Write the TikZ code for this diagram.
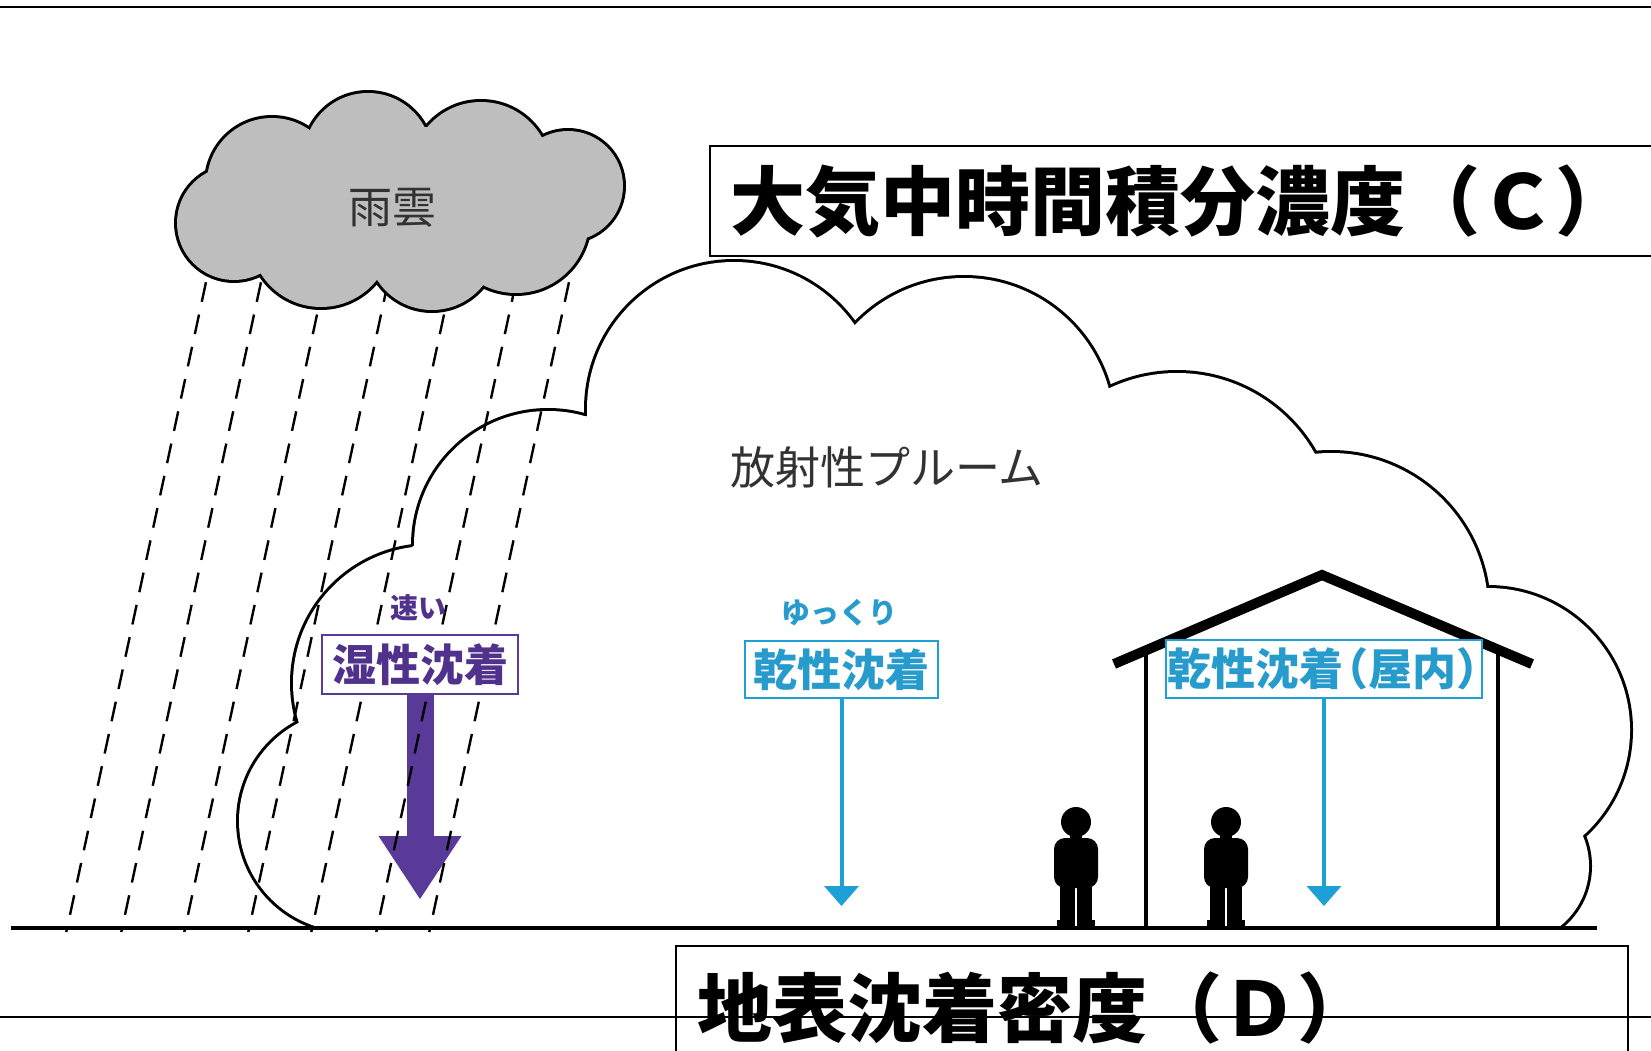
\documentclass[tikz,border=0pt]{standalone}
\usepackage{fontspec}
\newfontfamily\jp[BoldFont={Noto Sans CJK JP Bold}]{Noto Sans CJK JP}
\newfontfamily\jpheavy{Noto Sans CJK JP Black}
\usetikzlibrary{arrows.meta}

\pgfdeclarelayer{bglayer}
\pgfdeclarelayer{plumelayer}
\pgfdeclarelayer{arrowlayer}
\pgfdeclarelayer{rainlayer}
\pgfsetlayers{bglayer,plumelayer,arrowlayer,rainlayer,main}

\definecolor{wetc}{RGB}{90,58,152}
\definecolor{wettext}{RGB}{80,50,140}
\definecolor{dryc}{RGB}{30,160,215}
\definecolor{drytext}{RGB}{40,155,205}
\definecolor{cloudgray}{RGB}{190,190,190}
\definecolor{labelgray}{RGB}{50,50,50}

\tikzset{
  person/.pic={
    \fill (0,-104) circle[radius=15];
    \fill (-6,-92) rectangle (6,-84);
    \fill[rounded corners=11pt] (-22,-38) -- (-22,-88) -- (22,-88) -- (22,-38) -- cycle;
    \fill (-16,-42) rectangle (-1.2,-4);
    \fill (1.2,-42) rectangle (16,-4);
    \fill (-19,-6) rectangle (-1.2,0);
    \fill (1.2,-6) rectangle (19,0);
  }
}

\begin{document}
\begin{tikzpicture}[x=1pt,y=-1pt,
  cjk/.style={inner sep=0pt, text depth=0pt},
  plainlabel/.style={cjk, text height=33.4pt, text=labelgray, font=\jp\fontsize{44}{50}\selectfont},
  wetbox/.style={cjk, text height=33.4pt, draw=wetc, line width=2pt, fill=white, text=wettext,
    minimum width=196pt, minimum height=59pt,
    font=\jpheavy\fontsize{44}{50}\selectfont},
  wetsmall/.style={cjk, text height=21.3pt, text=wettext, font=\jpheavy\fontsize{28}{32}\selectfont},
  drybox/.style={cjk, text height=33.4pt, draw=dryc, line width=2pt, fill=white, text=drytext,
    minimum width=193pt, minimum height=57pt,
    font=\jpheavy\fontsize{44}{50}\selectfont},
  drysmall/.style={cjk, text height=22pt, text=drytext, font=\jpheavy\fontsize{29}{32}\selectfont},
  wetarrow/.style={draw=wetc, line width=27pt,
    -{Triangle[width=83pt,length=63pt,line width=0pt]}},
  dryarrow/.style={draw=dryc, line width=4pt,
    -{Triangle[width=35pt,length=20pt,line width=0pt]}},
  titlebox/.style={cjk, text height=57pt, draw, line width=1.6pt, inner ysep=0pt, align=left,
    font=\jpheavy\fontsize{75}{80}\selectfont},
  raindash/.style={line width=2.4pt, dash pattern=on 20pt off 13pt},
  pageline/.style={line width=2.4pt},
  groundline/.style={line width=4pt},
  roof/.style={line width=10pt, line join=miter, line cap=butt},
  wall/.style={line width=3.5pt}
]
\useasboundingbox (0,0) rectangle (1651,1051);
\begin{pgfonlayer}{bglayer}
  \fill[white] (0,0) rectangle (1651,1051);
\end{pgfonlayer}

% radioactive plume: union of discs, outlined, cut at the ground
\begin{pgfonlayer}{plumelayer}
\begin{scope}
  \clip (0,0) rectangle (1651,927);
  \foreach \cx/\cy/\r in {349.5/821/110.5, 430/683/137, 548/545/134, 734/409/147,
      964/428/150, 1177/531/158, 1331/610/157, 1488/730/142, 1512/866/77}
    \draw[line width=6pt] (\cx,\cy) circle[radius=\r];
  \foreach \cx/\cy/\r in {349.5/821/110.5, 430/683/137, 548/545/134, 734/409/147,
      964/428/150, 1177/531/158, 1331/610/157, 1488/730/142, 1512/866/77}
    \fill[white] (\cx,\cy) circle[radius=\r];
  \fill[white] (314,926) -- (299,723) -- (412,547) -- (588,415) -- (854,326)
    -- (1109,389) -- (1315,454) -- (1486,588) -- (1581,831) -- (1560,926) -- cycle;
\end{scope}
\end{pgfonlayer}

% slanted rain
\begin{pgfonlayer}{rainlayer}
  \foreach \x in {200,255,318,382,445,510,563}
    \draw[raindash] ({\x+12.9},250) -- ({\x-133.7},932);
\end{pgfonlayer}

% rain cloud
\foreach \cx/\cy/\r in {234/223/57, 272/183/65, 368/157/64, 481/172/70,
    568/186/55, 516/220/73, 432/245/65, 321/236/71}
  \draw[line width=6pt] (\cx,\cy) circle[radius=\r];
\foreach \cx/\cy/\r in {234/223/57, 272/183/65, 368/157/64, 481/172/70,
    568/186/55, 516/220/73, 432/245/65, 321/236/71}
  \fill[cloudgray] (\cx,\cy) circle[radius=\r];
\fill[cloudgray] (207,173) -- (310,130) -- (427,127) -- (542,138) -- (587,237)
  -- (483,285) -- (377,280) -- (260,273) -- cycle;
\node[plainlabel] (raincloud) at (392,207) {雨雲};

\node[plainlabel, text height=34.2pt, font=\jp\fontsize{45}{50}\selectfont] (plume) at (887,467) {放射性プルーム};

% ground
\coordinate (groundL) at (11,928);
\coordinate (groundR) at (1597,928);
\draw[groundline] (groundL) -- (groundR);

% house
\coordinate (roofL) at (1114,664);
\coordinate (roofTop) at (1322,575);
\coordinate (roofR) at (1532,664);
\coordinate (wallLtop) at (1146,650);
\coordinate (wallRtop) at (1498,650);
\draw[wall] (wallLtop) -- (wallLtop |- groundL);
\draw[wall] (wallRtop) -- (wallRtop |- groundL);
\draw[roof] (roofL) -- (roofTop) -- (roofR);

% people
\pic at (1076,926) {person};
\pic at (1226,926) {person};

% wet deposition
\node[wetsmall] (fast) at (418,608) {速い};
\node[wetbox] (wetbox) at (420,664.5) {湿性沈着};
\coordinate (wettip) at (423,899);
\begin{pgfonlayer}{arrowlayer}
  \draw[wetarrow] (wetbox.south) -- (wetbox.south |- wettip);
\end{pgfonlayer}

% dry deposition
\node[drysmall] (slow) at (839,612) {ゆっくり};
\node[drybox] (drybox) at (841.5,669.5) {乾性沈着};
\coordinate (drytip) at (842,906);
\draw[dryarrow] (drybox.south) -- (drybox.south |- drytip);

% dry deposition indoors
\node[drybox, minimum width=316pt, minimum height=58pt] (indoorbox) at (1324,669)
  {乾性沈着\kern-.45em（屋内）\kern-.45em};
\draw[dryarrow] (indoorbox.south) -- (indoorbox.south |- drytip);

% titles
\node[titlebox, text width=950pt, inner xsep=21pt, minimum height=110pt, anchor=west]
  (ctitle) at (709,201) {大気中時間積分濃度（Ｃ）};
\node[titlebox, text width=908pt, inner xsep=22pt, minimum height=124pt, anchor=north west]
  (dtitle) at (675,945) {地表沈着密度（Ｄ）};

% page rules
\coordinate (topL) at (0,7);
\coordinate (topR) at (1651,7);
\coordinate (botL) at (0,1017);
\coordinate (botR) at (1651,1017);
\draw[pageline] (topL) -- (topR);
\draw[pageline] (botL) -- (botR);
\end{tikzpicture}
\end{document}
